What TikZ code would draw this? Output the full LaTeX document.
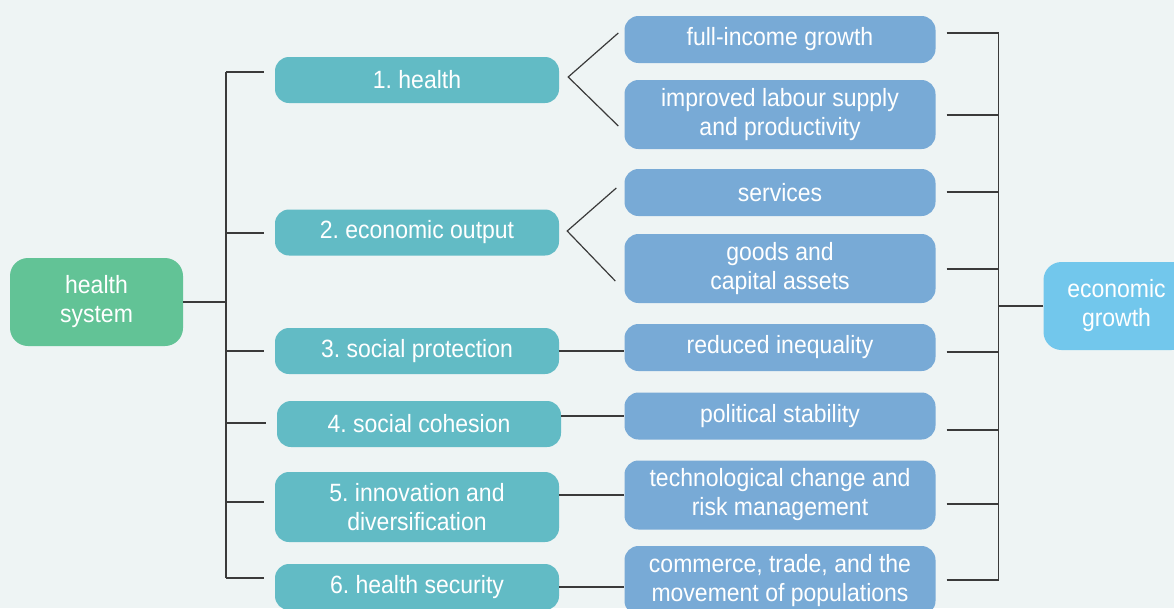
\documentclass[tikz,border=0pt]{standalone}
\usepackage{fontspec}
\setmainfont{Liberation Sans}[FakeStretch=0.92]
\frenchspacing
\definecolor{bgcol}{HTML}{EEF4F4}
\definecolor{linecol}{HTML}{3A3A3A}
\definecolor{syscol}{HTML}{62C396}
\definecolor{factcol}{HTML}{62BBC5}
\definecolor{outcol}{HTML}{78AAD6}
\definecolor{growcol}{HTML}{72C7EC}
\begin{document}
\begin{tikzpicture}[
    % 定義樣式
    x=1pt, y=-1pt,
    tree/.style={draw=linecol, line width=1.2pt},
    box/.style={rounded corners=14pt, text=white, align=center, inner sep=0pt,
        font=\fontsize{25}{29}\selectfont},
    system box/.style={box, fill=syscol, minimum width=173pt, minimum height=88pt, rounded corners=18pt},
    factor box/.style={box, fill=factcol, minimum width=284pt, minimum height=46pt},
    outcome box/.style={box, fill=outcol, minimum width=311pt, minimum height=47pt},
    tall/.style={minimum height=69pt},
    growth box/.style={box, fill=growcol, minimum width=146pt, minimum height=88pt, rounded corners=18pt}
]

    % 背景與邊界
    \fill[bgcol] (0,0) rectangle (1174,608);
    \useasboundingbox (0,0) rectangle (1174,608);

    % --- 1. 左側 health system ---
    \node[system box] (hs) at (96.5,302) {health\\system};

    % --- 2. 六個面向 ---
    \node[factor box] (f1) at (417,80) {1. health};
    \node[factor box] (f2) at (417,232.5) {2. economic output};
    \node[factor box] (f3) at (417,351) {3. social protection};
    \node[factor box] (f4) at (419,424) {4. social cohesion};
    \node[factor box, minimum height=70pt] (f5) at (417,507) {5. innovation and\\diversification};
    \node[factor box] (f6) at (417,587) {6. health security};

    % --- 3. 結果 ---
    \node[outcome box] (o1) at (780,39.5) {full-income growth};
    \node[outcome box, tall] (o2) at (780,114.5) {improved labour supply\\and productivity};
    \node[outcome box] (o3) at (780,192.5) {services};
    \node[outcome box, tall] (o4) at (780,268.5) {goods and\\capital assets};
    \node[outcome box] (o5) at (780,347.5) {reduced inequality};
    \node[outcome box] (o6) at (780,416) {political stability};
    \node[outcome box, tall] (o7) at (780,495) {technological change and\\risk management};
    \node[outcome box, tall] (o8) at (780,580.5) {commerce, trade, and the\\movement of populations};

    % --- 4. 右側 economic growth ---
    \node[growth box] (eg) at (1116.5,306) {economic\\growth};

    % --- 5. 連接線 (Edges) ---

    % 左側匯流線
    \foreach \name / \y in {1/72, 2/233, 3/351, 4/423, 5/502, 6/578}
        \coordinate (lb-\name) at (226,\y);
    \draw[tree] (lb-1) -- (lb-6);
    \draw[tree] (hs.east) -- (hs.east -| lb-1);
    \foreach \name in {1,...,6}
        \draw[tree] (lb-\name) -- ([xshift=-11pt]f\name.west |- lb-\name);

    % 分叉
    \draw[tree] ([xshift=-6pt,yshift=6.5pt]o1.west) -- ([xshift=9pt,yshift=3pt]f1.east)
        -- ([xshift=-6pt,yshift=-11.5pt]o2.west);
    \draw[tree] ([xshift=-8pt,yshift=4.5pt]o3.west) -- ([xshift=8pt,yshift=1.5pt]f2.east)
        -- ([xshift=-9pt,yshift=-12.5pt]o4.west);

    % 直線
    \draw[tree] (f3.east) -- (f3.east -| o5.west);
    \draw[tree] (o6.west -| f4.east) -- (o6.west);
    \draw[tree] (o7.west -| f5.east) -- (o7.west);
    \draw[tree] (f6.east) -- (f6.east -| o8.west);

    % 右側匯流線
    \foreach \name / \y in {1/33, 2/115, 3/192, 4/269, 5/352, 6/430, 7/504, 8/580}
        \coordinate (rb-\name) at (998.5,\y);
    \draw[tree] (rb-1) -- (rb-8);
    \foreach \name in {1,...,8}
        \draw[tree] ([xshift=11pt]o\name.east |- rb-\name) -- (rb-\name);
    \draw[tree] (eg.west) -- (eg.west -| rb-1);

\end{tikzpicture}
\end{document}
